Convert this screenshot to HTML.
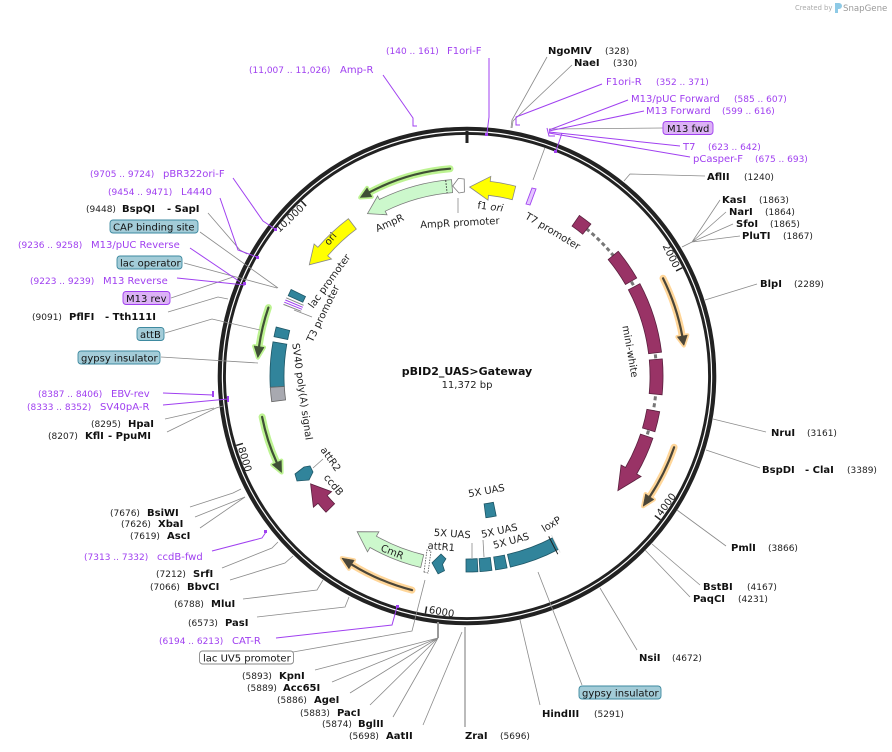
<!DOCTYPE html>
<html><head><meta charset="utf-8"><title>pBID2_UAS&gt;Gateway</title>
<style>
html,body{margin:0;padding:0;background:#fff;}
svg{display:block;}
text{font-family:"DejaVu Sans","Liberation Sans",sans-serif;}
.e{font-size:10px;font-weight:bold;fill:#111;}
.n{font-size:9px;fill:#222;}
.p{font-size:10px;fill:#a040f0;}
.pn{font-size:9px;fill:#a040f0;}
.f{font-size:10px;fill:#111;}
.i{font-size:10px;fill:#222;}
.t{font-size:10px;fill:#222;}
.gl{stroke:#8a8a8a;stroke-width:0.8;fill:none;}
.pl{stroke:#a040f0;stroke-width:1;fill:none;}
.tb{fill:#a3ccd8;stroke:#3e8aa0;stroke-width:0.9;}
.pb{fill:#dcb2f6;stroke:#a040f0;stroke-width:0.9;}
.teal{fill:#31849b;stroke:#1e5666;stroke-width:0.8;}
.mw{fill:#993366;stroke:#5a1f3e;stroke-width:0.8;}
</style></head>
<body>
<svg width="892" height="752" viewBox="0 0 892 752" xmlns="http://www.w3.org/2000/svg">
<rect width="892" height="752" fill="#fff"/>

<!-- SnapGene credit -->
<text x="795" y="10" style="font-size:6.8px;fill:#aaa">Created by</text>
<path d="M835,3 h4 a3,3 0 0 1 0,6 h-1 v4 h-3 z" fill="#8ecae6"/>
<text x="843" y="11" style="font-size:8.6px;fill:#999">SnapGene</text>

<!-- ORFs (halo + line) -->
<g stroke-linecap="round" stroke-linejoin="round">
 <g stroke="#ffd699" fill="#ffd699" stroke-width="7">
  <path d="M663.0,278.3 A219,219 0 0 1 682.3,336.1" fill="none"/>
  <polygon points="677.4,337.0 683.9,345.5 687.3,335.2" stroke-width="4"/>
  <path d="M674.1,447.3 A219,219 0 0 1 649.6,496.9" fill="none"/>
  <polygon points="645.5,494.1 643.1,506.3 653.8,499.6" stroke-width="4"/>
  <path d="M412.0,590.1 A221,221 0 0 1 351.5,564.4" fill="none"/>
  <polygon points="354.1,560.2 341.8,558.1 348.9,568.7" stroke-width="4"/>
 </g>
 <g stroke="#bdf392" fill="#bdf392" stroke-width="7">
  <path d="M450.0,168.7 A208,208 0 0 0 369.3,192.4" fill="none"/>
  <polygon points="371.7,196.8 360.2,197.5 367.0,187.9" stroke-width="4"/>
  <path d="M268.4,307.6 A210,210 0 0 0 259.0,346.8" fill="none"/>
  <polygon points="264.0,347.5 257.8,357.7 254.1,346.1" stroke-width="4"/>
  <path d="M262.1,416.9 A209,209 0 0 0 276.8,462.7" fill="none"/>
  <polygon points="281.4,460.6 281.6,472.5 272.3,464.7" stroke-width="4"/>
 </g>
 <g stroke="#4a4538" fill="#4a4538" stroke-width="2.2">
  <path d="M663.0,278.3 A219,219 0 0 1 682.3,336.1" fill="none"/>
  <polygon points="677.4,337.0 683.9,345.5 687.3,335.2" stroke-width="0.5"/>
  <path d="M674.1,447.3 A219,219 0 0 1 649.6,496.9" fill="none"/>
  <polygon points="645.5,494.1 643.1,506.3 653.8,499.6" stroke-width="0.5"/>
  <path d="M412.0,590.1 A221,221 0 0 1 351.5,564.4" fill="none"/>
  <polygon points="354.1,560.2 341.8,558.1 348.9,568.7" stroke-width="0.5"/>
 </g>
 <g stroke="#3f4f35" fill="#3f4f35" stroke-width="2.2">
  <path d="M450.0,168.7 A208,208 0 0 0 369.3,192.4" fill="none"/>
  <polygon points="371.7,196.8 360.2,197.5 367.0,187.9" stroke-width="0.5"/>
  <path d="M268.4,307.6 A210,210 0 0 0 259.0,346.8" fill="none"/>
  <polygon points="264.0,347.5 257.8,357.7 254.1,346.1" stroke-width="0.5"/>
  <path d="M262.1,416.9 A209,209 0 0 0 276.8,462.7" fill="none"/>
  <polygon points="281.4,460.6 281.6,472.5 272.3,464.7" stroke-width="0.5"/>
 </g>
</g>

<!-- Features -->
<!-- AmpR -->
<path d="M451.5,179.6 A197,197 0 0 0 379.4,199.5 L377.6,196.0 L367.5,213.6 L387.0,214.8 L385.2,211.2 A184,184 0 0 1 452.6,192.6 Z" fill="#ccf8cc" stroke="#7a7a7a" stroke-width="0.8"/>
<line x1="445.7" y1="180.3" x2="447.1" y2="193.1" stroke="#333" stroke-width="1" stroke-dasharray="1.5 1.5"/>
<!-- AmpR promoter -->
<path d="M464.2,179.0 L458.4,178.4 L452.7,186.0 L459.0,193.0 L464.4,192.0 Z" fill="#fff" stroke="#7a7a7a" stroke-width="0.8"/>
<line x1="458" y1="198" x2="458" y2="213" class="gl"/>
<!-- f1 ori -->
<path d="M515.7,186.2 A196,196 0 0 0 490.2,181.4 L490.8,176.4 L469.6,187.0 L488.0,200.2 L488.5,195.3 A182,182 0 0 1 512.3,199.7 Z" fill="#ffff00" stroke="#888" stroke-width="0.8"/>
<!-- ori -->
<path d="M348.4,218.7 A197,197 0 0 0 317.9,247.3 L314.1,244.0 L309.3,264.8 L331.5,259.0 L327.7,255.8 A184,184 0 0 1 356.3,229.1 Z" fill="#ffff00" stroke="#888" stroke-width="0.8"/>
<!-- T7 promoter -->
<polygon points="526,204 530,205 536,189 532,188" fill="#e4c6ff" stroke="#a040f0" stroke-width="0.9"/>
<line x1="533" y1="180" x2="547" y2="142" class="gl"/>

<!-- mini-white -->
<path d="M586.3,228.7 A189.5,189.5 0 0 1 646.2,437.7" fill="none" stroke="#777" stroke-width="3" stroke-dasharray="4 3"/>
<path class="mw" d="M579.4,215.4 A196,196 0 0 1 590.9,224.1 L582.7,234.2 A183,183 0 0 0 572.0,226.1 Z"/>
<path class="mw" d="M618.2,251.3 A196,196 0 0 1 636.7,278.0 L625.5,284.5 A183,183 0 0 0 608.2,259.6 Z"/>
<path class="mw" d="M639.9,283.7 A196,196 0 0 1 661.5,352.1 L648.6,353.7 A183,183 0 0 0 628.4,289.8 Z"/>
<path class="mw" d="M662.3,358.9 A196,196 0 0 1 662.1,394.8 L649.2,393.5 A183,183 0 0 0 649.3,360.0 Z"/>
<path class="mw" d="M659.7,411.7 A196,196 0 0 1 654.9,431.7 L642.5,428.0 A183,183 0 0 0 646.9,409.3 Z"/>
<path class="mw" d="M652.9,438.2 A196,196 0 0 1 636.7,474.0 L641.1,476.5 L617.9,490.6 L621.1,465.0 L625.5,467.5 A183,183 0 0 0 640.5,434.1 Z"/>

<!-- 5X UAS / loxP -->
<path class="teal" d="M477.9,571.7 A196,196 0 0 1 466.0,572.0 L466.0,559.0 A183,183 0 0 0 477.2,558.7 Z"/>
<path class="teal" d="M491.9,570.4 A196,196 0 0 1 480.0,571.6 L479.1,558.6 A183,183 0 0 0 490.3,557.5 Z"/>
<path class="teal" d="M507.1,567.9 A196,196 0 0 1 495.6,569.9 L493.7,557.0 A183,183 0 0 0 504.4,555.1 Z"/>
<path class="teal" d="M558.4,549.4 A196,196 0 0 1 510.4,567.1 L507.5,554.4 A183,183 0 0 0 552.4,537.9 Z"/>
<path class="teal" d="M496.2,516.0 A143,143 0 0 1 485.9,517.7 L484.1,503.9 A129,129 0 0 0 493.4,502.3 Z"/>
<line x1="548.7" y1="536.4" x2="557.8" y2="554.2" stroke="#222" stroke-width="1"/>
<line x1="551.5" y1="535.0" x2="560.2" y2="552.5" stroke="#ddd" stroke-width="0.8"/>
<line x1="472" y1="543" x2="472" y2="558" class="gl"/>
<line x1="483" y1="540" x2="484" y2="557" class="gl"/>

<!-- attR1 -->
<polygon class="teal" points="444.5,570.7 442.5,564.4 445.9,558.8 441.0,554.1 432.0,562.8 438.1,573.9"/>
<polygon points="424,572 428,573 431,551 427,550" fill="#fff" stroke="#555" stroke-width="0.8" stroke-dasharray="1.5 1.2"/>

<!-- CmR -->
<path d="M420.7,567.5 A197,197 0 0 1 370.0,547.5 L367.5,551.8 L357.2,531.7 L378.9,531.8 L376.4,536.2 A184,184 0 0 0 423.7,554.8 Z" fill="#ccf8cc" stroke="#7a7a7a" stroke-width="0.8"/>

<!-- ccdB -->
<path class="mw" d="M326.0,512.2 A196,196 0 0 1 318.0,503.3 L313.4,507.2 L310.6,483.9 L331.6,491.6 L327.1,495.5 A184,184 0 0 0 334.6,503.8 Z"/>
<!-- attR2 -->
<polygon class="teal" points="295,474 304,467 310,466 313,472 309,480 297,481"/>
<line x1="313" y1="468" x2="323" y2="459" class="gl"/>

<!-- SV40 polyA, attB box -->
<path class="teal" d="M276.2,327.0 A197,197 0 0 0 274.0,336.7 L287.7,339.5 A183,183 0 0 1 289.7,330.5 Z"/>
<path class="teal" d="M273.0,341.8 A197,197 0 0 0 270.3,387.3 L284.3,386.5 A183,183 0 0 1 286.8,344.2 Z"/>
<path d="M270.3,387.3 A197,197 0 0 0 271.7,401.7 L285.6,399.9 A183,183 0 0 1 284.3,386.5 Z" fill="#a8a9b0" stroke="#666" stroke-width="0.8"/>

<!-- lac cluster -->
<path class="teal" d="M291.1,289.5 L305.5,296.5 L302.8,302.2 L288.2,295.7 Z"/>
<line x1="286.2" y1="297.8" x2="303.6" y2="305.3" stroke="#888" stroke-width="1"/>
<line x1="285.3" y1="300.0" x2="302.8" y2="307.3" stroke="#a040f0" stroke-width="1"/>
<line x1="284.3" y1="302.2" x2="302.0" y2="309.3" stroke="#a040f0" stroke-width="1"/>
<line x1="283.5" y1="304.4" x2="301.2" y2="311.3" stroke="#888" stroke-width="1"/>
<line x1="294" y1="310" x2="312" y2="317" class="gl"/>

<!-- Ring -->
<circle cx="467" cy="376" r="245.2" fill="none" stroke="#222" stroke-width="8.2"/>
<circle cx="467" cy="376" r="244.6" fill="none" stroke="#fff" stroke-width="1.2"/>
<line x1="467" y1="131" x2="467" y2="143" stroke="#222" stroke-width="3"/>

<!-- ticks -->
<g transform="rotate(63.31 467 376)"><line x1="467" y1="135" x2="467" y2="142" stroke="#222" stroke-width="1.5"/><text class="t" x="464" y="143" text-anchor="end">2000</text></g>
<g transform="rotate(-43.43 467 376)"><line x1="467" y1="135" x2="467" y2="142" stroke="#222" stroke-width="1.5"/><text class="t" x="464" y="143" text-anchor="end">10,000</text></g>
<g transform="rotate(-53.38 467 376)"><line x1="467" y1="610" x2="467" y2="617" stroke="#222" stroke-width="1.5"/><text class="t" x="470" y="616">4000</text></g>
<g transform="rotate(9.94 467 376)"><line x1="467" y1="610" x2="467" y2="617" stroke="#222" stroke-width="1.5"/><text class="t" x="470" y="616">6000</text></g>
<g transform="rotate(73.25 467 376)"><line x1="467" y1="610" x2="467" y2="617" stroke="#222" stroke-width="1.5"/><text class="t" x="470" y="616">8000</text></g>

<!-- inner labels -->
<text class="i" transform="translate(391,226) rotate(-24)" text-anchor="middle">AmpR</text>
<text class="i" transform="translate(460,226) rotate(-3)" text-anchor="middle">AmpR promoter</text>
<text class="i" transform="translate(490,210) rotate(7)" text-anchor="middle">f1 <tspan font-style="italic">ori</tspan></text>
<text class="i" transform="translate(551,234) rotate(31)" text-anchor="middle">T7 promoter</text>
<text class="i" transform="translate(333,241) rotate(-50)" text-anchor="middle">ori</text>
<text class="i" transform="translate(332,283) rotate(-54)" text-anchor="middle">lac promoter</text>
<text class="i" transform="translate(326,315) rotate(-64)" text-anchor="middle">T3 promoter</text>
<text class="i" transform="translate(299,392) rotate(82)" text-anchor="middle">SV40 poly(A) signal</text>
<text class="i" transform="translate(627,352) rotate(80)" text-anchor="middle">mini-white</text>
<text class="i" transform="translate(328,461) rotate(55)" text-anchor="middle">attR2</text>
<text class="i" transform="translate(331,487) rotate(50)" text-anchor="middle">ccdB</text>
<text class="i" transform="translate(391,555) rotate(22)" text-anchor="middle">CmR</text>
<text class="i" transform="translate(487,494) rotate(-10)" text-anchor="middle">5X UAS</text>
<text class="i" transform="translate(452,537) rotate(4)" text-anchor="middle">5X UAS</text>
<text class="i" transform="translate(441,550) rotate(5)" text-anchor="middle">attR1</text>
<text class="i" transform="translate(500,534) rotate(-12)" text-anchor="middle">5X UAS</text>
<text class="i" transform="translate(512,544) rotate(-15)" text-anchor="middle">5X UAS</text>
<text class="i" transform="translate(553,527) rotate(-31)" text-anchor="middle">loxP</text>

<!-- center -->
<text x="467" y="375" text-anchor="middle" style="font-size:11px;font-weight:bold;fill:#111">pBID2_UAS&gt;Gateway</text>
<text x="467" y="388" text-anchor="middle" style="font-size:10px;fill:#222">11,372 bp</text>

<!-- leader lines -->
<g class="gl">
 <path d="M547,57 L512,120 L511,128"/>
 <path d="M572,65 L513,121 L512,128"/>
 <path d="M663,128 L549,129"/>
 <path d="M705,176 L630,174 L624,181"/>
 <path d="M720,200 L692,242 M726,212 L692,242 M733,224 L692,242 M740,236 L692,242 M692,242 L682,247"/>
 <path d="M757,284 L705,300"/>
 <path d="M766,432 L713,419"/>
 <path d="M760,468 L706,450"/>
 <path d="M726,546 L677,510"/>
 <path d="M700,585 L652,544"/>
 <path d="M690,597 L645,550"/>
 <path d="M637,650 L600,588"/>
 <path d="M582,685 L538,572"/>
 <path d="M540,705 L520,620"/>
 <path d="M423,725 L462,632"/>
 <path d="M393,717 L438,638 M370,705 L438,638 M350,693 L438,638 M332,682 L438,638 M315,670 L438,638"/>
 <path d="M293,652 L412,631 L425,580"/>
 <path d="M257,617 L345,607 L349,597"/>
 <path d="M243,599 L317,590 L323,580"/>
 <path d="M230,580 L285,563 L293,556"/>
 <path d="M222,568 L272,548 L278,542"/>
 <path d="M200,528 L245,497"/>
 <path d="M195,517 L245,497"/>
 <path d="M190,507 L233,493 L241,489"/>
 <path d="M167,432 L216,408 L223,406"/>
 <path d="M165,419 L214,408"/>
 <path d="M161,357 L258,363"/>
 <path d="M165,333 L212,319 L260,330"/>
 <path d="M168,312 L218,297 L228,299"/>
 <path d="M171,298 L233,277"/>
 <path d="M184,263 L277,288"/>
 <path d="M200,232 L278,288"/>
 <path d="M208,213 L240,250 L247,254"/>
</g>
<line x1="465" y1="727" x2="465" y2="627" stroke="#aaa" stroke-width="1.6"/>
<line x1="438" y1="638" x2="438" y2="622" stroke="#999" stroke-width="2"/>

<g class="pl">
 <path d="M383,75 L413,118 L413,126 L417,126"/>
 <path d="M489,58 L489,117 L487,133"/>
 <path d="M602,84 L516,117 L516,125 L520,125"/>
 <path d="M628,100 L549,130"/>
 <path d="M644,111 L549,131"/>
 <path d="M680,146 L549,132"/>
 <path d="M690,157 L549,133"/>
 <path d="M547,128 L549,136 L555,136"/>
 <path d="M562,133 L556,151"/>
 <path d="M276,638 L392,625 L397,607"/>
 <path d="M212,551 L262,538 L266,532"/>
 <path d="M163,405 L228,399"/>
 <path d="M163,393 L213,395"/>
 <path d="M177,278 L245,285"/>
 <path d="M190,248 L233,277 L240,282"/>
 <path d="M220,198 L238,250 L257,257"/>
 <path d="M233,178 L263,221 L275,229"/>
</g>
<g fill="#a040f0">
 <rect x="485" y="133" width="3" height="3"/>
 <rect x="554" y="150" width="3" height="3"/>
 <rect x="396" y="605" width="3" height="3"/>
 <rect x="264" y="530" width="3" height="3"/>
 <rect x="227" y="396" width="2" height="6"/>
 <rect x="212" y="391" width="2" height="6"/>
 <rect x="243" y="282" width="3" height="3"/>
 <rect x="256" y="256" width="3" height="3"/>
 <rect x="274" y="228" width="3" height="3"/>
</g>

<!-- top labels -->
<text class="pn" x="249" y="73">(11,007 .. 11,026)</text><text class="p" x="340" y="73">Amp-R</text>
<text class="pn" x="386" y="54">(140 .. 161)</text><text class="p" x="447" y="54">F1ori-F</text>
<text class="e" x="548" y="54">NgoMIV</text><text class="n" x="605" y="54">(328)</text>
<text class="e" x="574" y="66">NaeI</text><text class="n" x="613" y="66">(330)</text>
<text class="p" x="606" y="85">F1ori-R</text><text class="pn" x="656" y="85">(352 .. 371)</text>
<text class="p" x="631" y="102">M13/pUC Forward</text><text class="pn" x="734" y="102">(585 .. 607)</text>
<text class="p" x="646" y="114">M13 Forward</text><text class="pn" x="722" y="114">(599 .. 616)</text>
<rect class="pb" x="663" y="121.5" width="50" height="13" rx="3"/><text class="f" x="667" y="132">M13 fwd</text>
<text class="p" x="683" y="150">T7</text><text class="pn" x="708" y="150">(623 .. 642)</text>
<text class="p" x="693" y="162">pCasper-F</text><text class="pn" x="755" y="162">(675 .. 693)</text>

<!-- right labels -->
<text class="e" x="707" y="180">AflII</text><text class="n" x="744" y="180">(1240)</text>
<text class="e" x="722" y="203">KasI</text><text class="n" x="759" y="203">(1863)</text>
<text class="e" x="729" y="215">NarI</text><text class="n" x="765" y="215">(1864)</text>
<text class="e" x="736" y="227">SfoI</text><text class="n" x="770" y="227">(1865)</text>
<text class="e" x="742" y="239">PluTI</text><text class="n" x="783" y="239">(1867)</text>
<text class="e" x="760" y="287">BlpI</text><text class="n" x="794" y="287">(2289)</text>
<text class="e" x="771" y="436">NruI</text><text class="n" x="807" y="436">(3161)</text>
<text class="e" x="762" y="473">BspDI</text><text class="e" x="805" y="473">- ClaI</text><text class="n" x="847" y="473">(3389)</text>
<text class="e" x="731" y="551">PmlI</text><text class="n" x="768" y="551">(3866)</text>
<text class="e" x="703" y="590">BstBI</text><text class="n" x="747" y="590">(4167)</text>
<text class="e" x="693" y="602">PaqCI</text><text class="n" x="738" y="602">(4231)</text>
<text class="e" x="639" y="661">NsiI</text><text class="n" x="672" y="661">(4672)</text>
<rect class="tb" x="579" y="686" width="82" height="13" rx="3"/><text class="f" x="582" y="696.5">gypsy insulator</text>
<text class="e" x="542" y="717">HindIII</text><text class="n" x="594" y="717">(5291)</text>
<text class="e" x="465" y="739">ZraI</text><text class="n" x="500" y="739">(5696)</text>

<!-- bottom-left labels -->
<text class="n" x="349" y="739">(5698)</text><text class="e" x="386" y="739">AatII</text>
<text class="n" x="322" y="727">(5874)</text><text class="e" x="358" y="727">BglII</text>
<text class="n" x="300" y="716">(5883)</text><text class="e" x="337" y="716">PacI</text>
<text class="n" x="277" y="703">(5886)</text><text class="e" x="314" y="703">AgeI</text>
<text class="n" x="247" y="691">(5889)</text><text class="e" x="283" y="691">Acc65I</text>
<text class="n" x="242" y="679">(5893)</text><text class="e" x="279" y="679">KpnI</text>
<rect x="199.5" y="651" width="94" height="13" rx="3" fill="#fff" stroke="#888" stroke-width="0.9"/><text class="f" x="203" y="661.5">lac UV5 promoter</text>
<text class="pn" x="159" y="644">(6194 .. 6213)</text><text class="p" x="232" y="644">CAT-R</text>
<text class="n" x="188" y="626">(6573)</text><text class="e" x="225" y="626">PasI</text>
<text class="n" x="174" y="607">(6788)</text><text class="e" x="211" y="607">MluI</text>
<text class="n" x="150" y="590">(7066)</text><text class="e" x="187" y="590">BbvCI</text>
<text class="n" x="156" y="577">(7212)</text><text class="e" x="193" y="577">SrfI</text>
<text class="pn" x="84" y="560">(7313 .. 7332)</text><text class="p" x="157" y="560">ccdB-fwd</text>
<text class="n" x="130" y="539">(7619)</text><text class="e" x="167" y="539">AscI</text>
<text class="n" x="121" y="527">(7626)</text><text class="e" x="158" y="527">XbaI</text>
<text class="n" x="110" y="516">(7676)</text><text class="e" x="147" y="516">BsiWI</text>

<!-- left labels -->
<text class="n" x="48" y="439">(8207)</text><text class="e" x="85" y="439">KflI</text><text class="e" x="108" y="439">- PpuMI</text>
<text class="n" x="91" y="427">(8295)</text><text class="e" x="128" y="427">HpaI</text>
<text class="pn" x="27" y="410">(8333 .. 8352)</text><text class="p" x="100" y="410">SV40pA-R</text>
<text class="pn" x="38" y="397">(8387 .. 8406)</text><text class="p" x="111" y="397">EBV-rev</text>
<rect class="tb" x="78" y="351" width="82" height="13" rx="3"/><text class="f" x="81" y="361.5">gypsy insulator</text>
<rect class="tb" x="137" y="327.5" width="27" height="13" rx="3"/><text class="f" x="140" y="338">attB</text>
<text class="n" x="32" y="320">(9091)</text><text class="e" x="69" y="320">PflFI</text><text class="e" x="105" y="320">- Tth111I</text>
<rect class="pb" x="123" y="291.5" width="47" height="13" rx="3"/><text class="f" x="126" y="302">M13 rev</text>
<text class="pn" x="30" y="284">(9223 .. 9239)</text><text class="p" x="103" y="284">M13 Reverse</text>
<rect class="tb" x="117" y="256" width="65" height="13" rx="3"/><text class="f" x="120" y="266.5">lac operator</text>
<text class="pn" x="18" y="248">(9236 .. 9258)</text><text class="p" x="91" y="248">M13/pUC Reverse</text>
<rect class="tb" x="110" y="220" width="88" height="13" rx="3"/><text class="f" x="113" y="230.5">CAP binding site</text>
<text class="n" x="86" y="212">(9448)</text><text class="e" x="122" y="212">BspQI</text><text class="e" x="167" y="212">- SapI</text>
<text class="pn" x="108" y="195">(9454 .. 9471)</text><text class="p" x="181" y="195">L4440</text>
<text class="pn" x="90" y="177">(9705 .. 9724)</text><text class="p" x="163" y="177">pBR322ori-F</text>
</svg>
</body></html>
